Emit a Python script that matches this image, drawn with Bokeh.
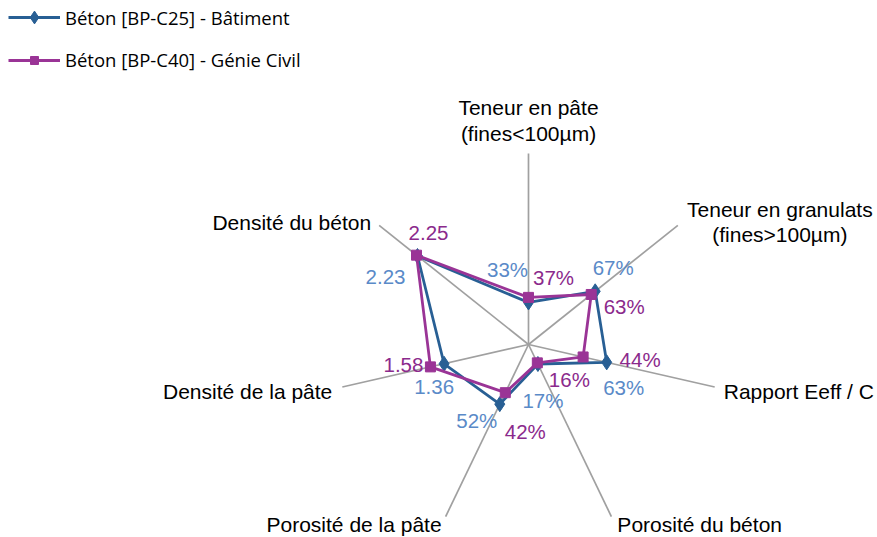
import math
from bokeh.plotting import figure
from bokeh.models import Range1d, ColumnDataSource, Legend, LegendItem
from bokeh.core.properties import value
from bokeh.embed import file_html
from bokeh.resources import INLINE

# ---------------- data ----------------
axes_labels = [
    ["Teneur en pâte", "(fines<100µm)"],
    ["Teneur en granulats", "(fines>100µm)"],
    ["Rapport Eeff / C"],
    ["Porosité du béton"],
    ["Porosité de la pâte"],
    ["Densité de la pâte"],
    ["Densité du béton"],
]
series_names = ["Béton [BP-C25] - Bâtiment", "Béton [BP-C40] - Génie Civil"]
# plotted (normalised) radial values; densities are shown at half their value
c25_values = [0.33, 0.67, 0.63, 0.17, 0.52, 0.68, 1.115]
c40_values = [0.37, 0.63, 0.44, 0.16, 0.42, 0.79, 1.125]
c25_labels = ["33%", "67%", "63%", "17%", "52%", "1.36", "2.23"]
c40_labels = ["37%", "63%", "44%", "16%", "42%", "1.58", "2.25"]
radial_max = 1.5

# ---------------- layout ----------------
W, H = 877, 537
S = 191 / radial_max          # px per radial unit
CX, CY = 528, 344             # centre in figure px (from top-left)
x0 = -CX / S
y1 = CY / S

BLUE = "#285F94"
PURPLE = "#9A3496"
BLUE_LBL = "#5A8AC8"
PURPLE_LBL = "#8B2A8C"
GRID = "#A0A0A0"
FONT = value("Liberation Sans")

p = figure(width=W, height=H, output_backend="svg", toolbar_location=None,
           x_range=Range1d(x0, x0 + W / S), y_range=Range1d(y1 - H / S, y1),
           min_border=0, outline_line_color=None)
p.axis.visible = False
p.grid.visible = False
p.background_fill_color = "white"
p.border_fill_color = "white"

n = len(axes_labels)
theta = [math.pi / 2 - k * 2 * math.pi / n for k in range(n)]

# spokes
for t in theta:
    p.line([0, radial_max * math.cos(t)], [0, radial_max * math.sin(t)],
           line_color=GRID, line_width=1.7)

# axis labels: offsets (px) from spoke end, per line
axis_lbl_style = [
    (["center", "center"], [(0, -46), (0, -20)]),
    (["center", "center"], [(102, -16), (102, 9)]),
    (["left"], [(9, 4)]),
    (["left"], [(6, 8)]),
    (["right"], [(-4, 8)]),
    (["right"], [(-10, 4)]),
    (["right"], [(-8, -3)]),
]
for k, lines in enumerate(axes_labels):
    ex = radial_max * math.cos(theta[k])
    ey = radial_max * math.sin(theta[k])
    aligns, offs = axis_lbl_style[k]
    for j, txt in enumerate(lines):
        p.text(x=[ex], y=[ey], text=[txt], x_offset=offs[j][0], y_offset=offs[j][1],
               text_align=aligns[j], text_baseline="middle",
               text_font=FONT, text_font_size="21px", text_color="#000000")


def polar(vals):
    xs = [v * math.cos(t) for v, t in zip(vals, theta)]
    ys = [v * math.sin(t) for v, t in zip(vals, theta)]
    return xs, ys


bx, by = polar(c25_values)
px_, py_ = polar(c40_values)

l1 = p.line(bx + [bx[0]], by + [by[0]], line_color=BLUE, line_width=2.8)
m1 = p.scatter(bx, by, marker="diamond", size=15,
               fill_color=BLUE, line_color=BLUE)
l2 = p.line(px_ + [px_[0]], py_ + [py_[0]], line_color=PURPLE, line_width=2.8)
m2 = p.scatter(px_, py_, marker="square", size=10,
               fill_color=PURPLE, line_color=PURPLE)

# data labels
c25_off = [(-21, -33), (18, -24), (17, 25), (5, 36), (-23, 16), (-10, 23), (-32, 21)]
c40_off = [(25, -20), (33, 12), (57, 3), (32, 17), (20, 39), (-27, -2), (12, -22)]
src_b = ColumnDataSource(dict(x=bx, y=by, t=c25_labels,
                              dx=[o[0] for o in c25_off], dy=[o[1] for o in c25_off]))
src_p = ColumnDataSource(dict(x=px_, y=py_, t=c40_labels,
                              dx=[o[0] for o in c40_off], dy=[o[1] for o in c40_off]))
p.text(x="x", y="y", text="t", x_offset="dx", y_offset="dy", source=src_b,
       text_align="center", text_baseline="middle", text_font=FONT,
       text_font_size="20.5px", text_color=BLUE_LBL)
p.text(x="x", y="y", text="t", x_offset="dx", y_offset="dy", source=src_p,
       text_align="center", text_baseline="middle", text_font=FONT,
       text_font_size="20.5px", text_color=PURPLE_LBL)

common = dict(orientation="vertical", glyph_width=52, label_standoff=5,
              padding=0, margin=0, label_text_font="Open Sans",
              label_text_font_size="18.5px", label_text_color="#000000",
              label_text_baseline="middle", border_line_color=None,
              background_fill_alpha=0)
leg1 = Legend(items=[LegendItem(label=series_names[0], renderers=[l1, m1])],
              location=(8, H - 1 - 32), glyph_height=32, label_height=32, **common)
leg2 = Legend(items=[LegendItem(label=series_names[1], renderers=[l2, m2])],
              location=(8, H - 48 - 24), glyph_height=20, label_height=24, **common)
p.add_layout(leg1)
p.add_layout(leg2)

open("out.html", "w").write(file_html(p, INLINE))
